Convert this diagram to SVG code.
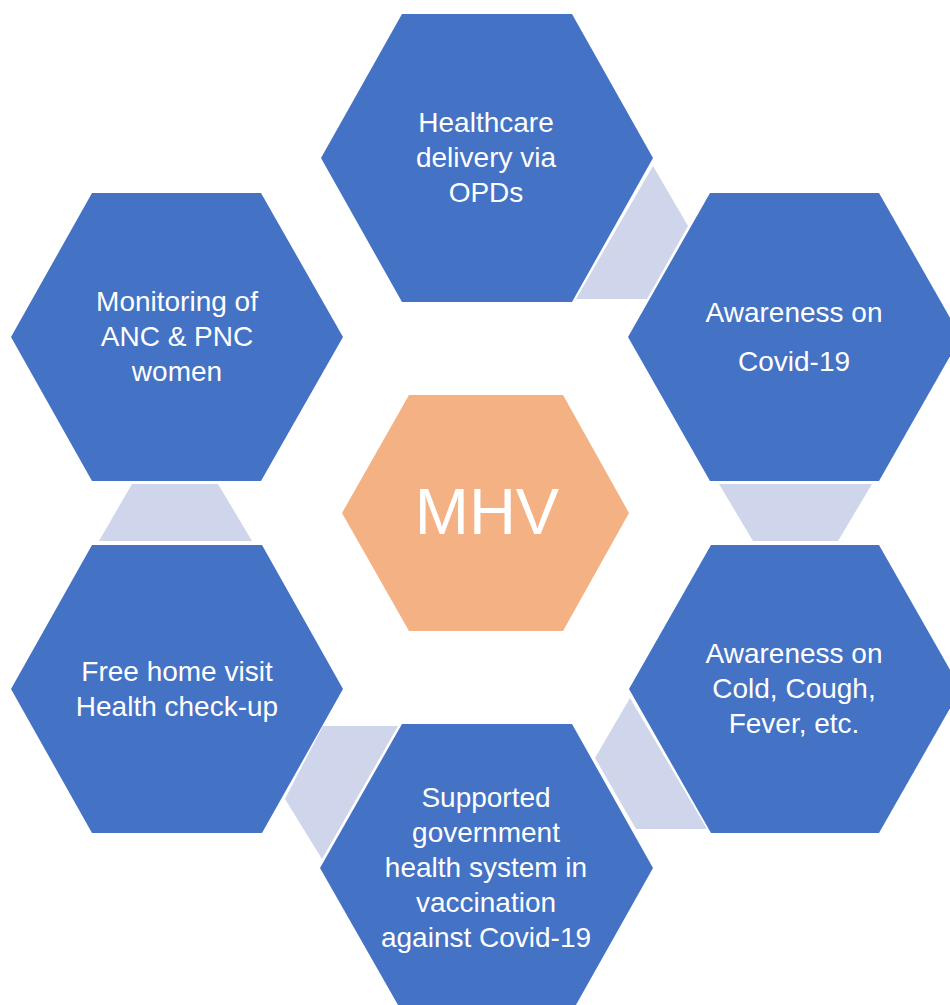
<svg xmlns="http://www.w3.org/2000/svg" width="950" height="1005" viewBox="0 0 950 1005">
<style>
.hex{fill:#4472C4}
.core{fill:#F4B183}
.conn{fill:#CFD5EA}
text{font-family:"Liberation Sans",Arial,sans-serif;fill:#FFFFFF;text-anchor:middle}
.t{font-size:28px}
.big{font-size:65px}
</style>
<rect width="950" height="1005" fill="#FFFFFF"/>
<g id="connectors">
<polygon class="conn" points="653,166 688,226 647,299 576,299"/>
<polygon class="conn" points="719,484 872,484 838,541 753,541"/>
<polygon class="conn" points="630,698 707,829 636,829 595,758"/>
<polygon class="conn" points="323,726 398,726 322,859 285,799"/>
<polygon class="conn" points="132,484 218,484 252,541 99,541"/>
</g>
<g id="node-top">
<polygon class="hex" points="321,158 402,14 572,14 653,158 572,302 402,302"/>
<text class="t" x="486" y="132">Healthcare</text>
<text class="t" x="486" y="167">delivery via</text>
<text class="t" x="486" y="202">OPDs</text>
</g>
<g id="node-right-top">
<polygon class="hex" points="628,337 710,193 879,193 961,337 879,481 710,481"/>
<text class="t" x="794" y="322">Awareness on</text>
<text class="t" x="794" y="371">Covid-19</text>
</g>
<g id="node-right-bottom">
<polygon class="hex" points="629,689 711,545 879,545 961,689 879,833 711,833"/>
<text class="t" x="794" y="663">Awareness on</text>
<text class="t" x="794" y="698">Cold, Cough,</text>
<text class="t" x="794" y="733">Fever, etc.</text>
</g>
<g id="node-bottom">
<polygon class="hex" points="320,868 402,724 572,724 653,868 572,1012 402,1012"/>
<text class="t" x="486" y="807">Supported</text>
<text class="t" x="486" y="842">government</text>
<text class="t" x="486" y="877">health system in</text>
<text class="t" x="486" y="912">vaccination</text>
<text class="t" x="486" y="947">against Covid-19</text>
</g>
<g id="node-left-bottom">
<polygon class="hex" points="11,689 92,545 262,545 343,689 262,833 92,833"/>
<text class="t" x="177" y="681">Free home visit</text>
<text class="t" x="177" y="716">Health check-up</text>
</g>
<g id="node-left-top">
<polygon class="hex" points="11,337 92,193 261,193 343,337 261,481 92,481"/>
<text class="t" x="177" y="311">Monitoring of</text>
<text class="t" x="177" y="346">ANC &amp; PNC</text>
<text class="t" x="177" y="381">women</text>
</g>
<g id="node-center">
<polygon class="core" points="342,513 409,395 563,395 629,513 563,631 409,631"/>
<text class="big" x="487" y="534">MHV</text>
</g>
</svg>
